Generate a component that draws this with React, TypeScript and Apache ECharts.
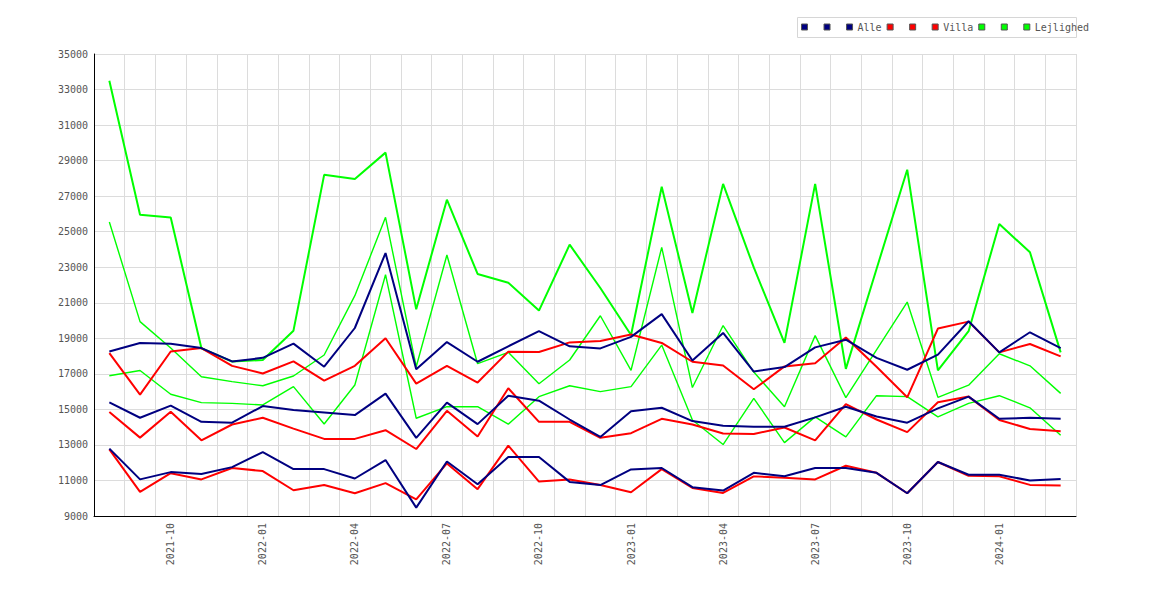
import React, { useEffect, useRef } from 'react';
import * as echarts from 'echarts';

const categories = [
  '2021-08', '2021-09', '2021-10', '2021-11', '2021-12',
  '2022-01', '2022-02', '2022-03', '2022-04', '2022-05', '2022-06',
  '2022-07', '2022-08', '2022-09', '2022-10', '2022-11', '2022-12',
  '2023-01', '2023-02', '2023-03', '2023-04', '2023-05', '2023-06',
  '2023-07', '2023-08', '2023-09', '2023-10', '2023-11', '2023-12',
  '2024-01', '2024-02', '2024-03',
];

const alleHigh = [18260, 18740, 18700, 18450, 17700, 17900, 18700, 17400, 19580, 23800, 17260, 18790, 17680, 18550, 19400, 18550, 18430, 19080, 20360, 17750, 19300, 17130, 17380, 18490, 18920, 17900, 17230, 18080, 19960, 18210, 19340, 18450];
const alleMid = [15400, 14530, 15210, 14300, 14250, 15190, 14960, 14830, 14680, 15890, 13400, 15380, 14170, 15770, 15490, 14430, 13450, 14900, 15090, 14340, 14080, 14020, 14020, 14550, 15150, 14600, 14250, 15060, 15720, 14470, 14530, 14470];
const alleLow = [12790, 11060, 11470, 11360, 11750, 12600, 11640, 11640, 11110, 12150, 9470, 12070, 10790, 12320, 12320, 10920, 10740, 11620, 11700, 10620, 10430, 11430, 11240, 11700, 11700, 11430, 10280, 12040, 11320, 11320, 11000, 11080];

const villaHigh = [18170, 15830, 18260, 18450, 17450, 17020, 17700, 16620, 17450, 19000, 16450, 17450, 16510, 18250, 18230, 18770, 18850, 19210, 18740, 17680, 17470, 16130, 17420, 17600, 19040, 17400, 15680, 19550, 19940, 18210, 18680, 17980];
const villaMid = [14850, 13410, 14870, 13260, 14150, 14530, 13920, 13340, 13340, 13830, 12770, 14920, 13470, 16190, 14300, 14300, 13400, 13660, 14470, 14150, 13640, 13620, 13980, 13260, 15300, 14430, 13720, 15400, 15720, 14400, 13900, 13770];
const villaLow = [12750, 10360, 11410, 11060, 11700, 11530, 10450, 10740, 10280, 10850, 9940, 11960, 10510, 12960, 10940, 11060, 10750, 10340, 11640, 10580, 10300, 11230, 11150, 11060, 11830, 11430, 10280, 12040, 11260, 11230, 10750, 10720];

const lejlHigh = [33500, 25950, 25800, 18440, 17690, 17780, 19430, 28200, 27970, 29450, 20630, 26800, 22620, 22130, 20560, 24270, 21830, 19190, 27530, 20430, 27690, 22990, 18740, 27690, 17280, 22900, 28490, 17190, 19400, 25430, 23840, 18210];
const lejlMid = [25550, 19940, 18450, 16840, 16560, 16330, 16880, 18060, 21400, 25810, 17400, 23690, 17570, 18210, 16440, 17780, 20270, 17200, 24120, 16230, 19720, 17100, 15150, 19150, 15660, 18350, 21040, 15680, 16360, 18130, 17450, 15900];
const lejlLow = [16890, 17190, 15850, 15380, 15340, 15250, 16280, 14180, 16370, 22580, 14500, 15150, 15150, 14170, 15715, 16330, 16000, 16280, 18620, 14400, 13020, 15620, 13130, 14580, 13450, 15770, 15720, 14580, 15340, 15770, 15090, 13550];

const yMin = 9000;
const yMax = 35000;
const yStep = 2000;

const NAVY = '#000080';
const RED = '#ff0000';
const GREEN = '#00ff00';
const FONT = 'DejaVu Sans Mono';

type SeriesDef = { name: string; data: number[]; color: string; width: number; z: number };

const seriesDefs: SeriesDef[] = [
  { name: 'Alle#1', data: alleHigh, color: NAVY, width: 2, z: 4 },
  { name: 'Alle#2', data: alleMid, color: NAVY, width: 2, z: 4 },
  { name: 'Alle', data: alleLow, color: NAVY, width: 2, z: 4 },
  { name: 'Villa#1', data: villaHigh, color: RED, width: 2, z: 3 },
  { name: 'Villa#2', data: villaMid, color: RED, width: 2, z: 3 },
  { name: 'Villa', data: villaLow, color: RED, width: 2, z: 3 },
  { name: 'Lejlighed#1', data: lejlHigh, color: GREEN, width: 2, z: 2 },
  { name: 'Lejlighed#2', data: lejlMid, color: GREEN, width: 1.4, z: 2 },
  { name: 'Lejlighed', data: lejlLow, color: GREEN, width: 1.4, z: 2 },
];

export default function App() {
  const ref = useRef<HTMLDivElement>(null);

  useEffect(() => {
    document.body.style.margin = '0';
    if (!ref.current) return;
    const chart = echarts.init(ref.current, undefined, { renderer: 'svg' });
    chart.setOption({
      animation: false,
      backgroundColor: '#ffffff',
      grid: { left: 94, right: 94, top: 54, bottom: 84, containLabel: false },
      legend: {
        left: 801,
        top: 22,
        padding: 0,
        itemWidth: 6,
        itemHeight: 6,
        itemGap: 5,
        icon: 'rect',
        selectedMode: false,
        data: seriesDefs.map((s) => s.name),
        formatter: (name: string) => (name.indexOf('#') >= 0 ? '{e| }' : name),
        itemStyle: { borderColor: '#555555', borderWidth: 1 },
        textStyle: {
          fontFamily: FONT,
          fontSize: 10,
          color: '#555555',
          padding: 0,
          rich: { e: { width: 6, fontFamily: FONT, fontSize: 10 } },
        },
      },
      graphic: [
        {
          type: 'rect',
          z: 0,
          silent: true,
          shape: { x: 797.5, y: 17.5, width: 279, height: 20 },
          style: { fill: '#ffffff', stroke: '#d6d6d6', lineWidth: 1 },
        },
      ],
      xAxis: {
        type: 'category',
        data: categories,
        boundaryGap: true,
        axisLine: { show: true, lineStyle: { color: '#000000', width: 1 } },
        axisTick: { show: false },
        axisLabel: {
          rotate: 90,
          margin: 7,
          interval: (index: number) => index % 3 === 2,
          fontFamily: FONT,
          fontSize: 10,
          color: '#555555',
        },
        splitLine: { show: true, interval: 0, lineStyle: { color: '#dcdcdc', width: 1 } },
      },
      yAxis: {
        type: 'value',
        min: yMin,
        max: yMax,
        interval: yStep,
        axisLine: { show: true, lineStyle: { color: '#000000', width: 1 } },
        axisTick: { show: false },
        axisLabel: {
          margin: 6,
          fontFamily: FONT,
          fontSize: 10,
          color: '#555555',
          formatter: (v: number) => String(v),
        },
        splitLine: { show: true, lineStyle: { color: '#dcdcdc', width: 1 } },
      },
      series: seriesDefs.map((s) => ({
        name: s.name,
        type: 'line',
        data: s.data,
        symbol: 'none',
        z: s.z,
        silent: true,
        lineStyle: { color: s.color, width: s.width },
        itemStyle: { color: s.color },
        emphasis: { disabled: true },
      })),
    });
    return () => chart.dispose();
  }, []);

  return <div ref={ref} style={{ width: 1170, height: 600 }} />;
}
